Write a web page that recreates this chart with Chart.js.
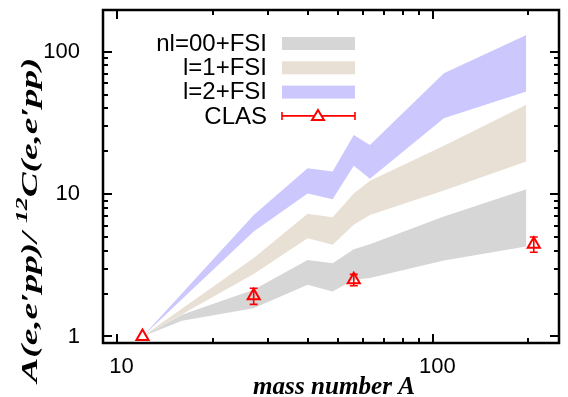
<!DOCTYPE html>
<html>
<head>
<meta charset="utf-8">
<script src="https://cdn.jsdelivr.net/npm/chart.js@4/dist/chart.umd.min.js"></script>
<style>
    html, body { margin: 0; padding: 0; background: #fff; }
    #wrap { width: 568px; height: 397px; }
</style>
</head>
<body>
<div id="wrap"><canvas id="ratioChart" width="568" height="397"></canvas></div>
<script>
/* ---- data ---- */
const massGray = [12, 16, 27, 40, 48, 56, 63, 108, 197];
const grayLow  = [1.0, 1.29, 1.58, 2.31, 2.07, 2.5, 2.57, 3.41, 4.28];
const grayHigh = [1.0, 1.42, 2.13, 3.45, 3.27, 4.1, 4.45, 6.95, 10.8];

const massBand = [12, 27, 40, 48, 56, 63, 108, 197];
const tanLow   = [1.0, 2.75, 4.9, 4.4, 6.08, 7.14, 10.6, 16.9];
const tanHigh  = [1.0, 3.55, 7.26, 6.88, 10.1, 12.4, 21.8, 42.3];
const blueLow  = [1.0, 5.46, 10.1, 9.2, 15.8, 12.8, 34.1, 52.4];
const blueHigh = [1.0, 7.14, 15.2, 14.4, 26.0, 22.1, 70.5, 131];

const clasMass  = [12, 27, 56, 208];
const clasRatio = [1.0, 1.93, 2.5, 4.45];
const clasErr   = [0, 0.25, 0.23, 0.55];

const xTicks = [10, 100];
const yTicks = [1, 10, 100];

const grayCol = "#d6d6d6";
const tanCol  = "#e9e0d5";
const blueCol = "#ccc8fe";
const red     = "#ff0000";

function pts(xs, ys) {
    return xs.map((x, i) => ({ x: x, y: ys[i] }));
}

function band(xs, lo, hi, col, ord) {
    return [
        { data: pts(xs, lo), order: ord, borderWidth: 0, pointRadius: 0, fill: false, backgroundColor: col },
        { data: pts(xs, hi), order: ord, borderWidth: 0, pointRadius: 0, fill: "-1", backgroundColor: col }
    ];
}

/* text stretched along its own direction to a given width */
function stretchedText(c, parts, cx, cy, targetW) {
    let total = 0;
    parts.forEach(p => { c.font = p.f; p.w = c.measureText(p.t).width; total += p.w; });
    const k = targetW / total;
    c.save();
    c.translate(cx, cy);
    c.scale(k, 1);
    let x0 = -total / 2;
    c.textAlign = "left";
    parts.forEach(p => {
        c.font = p.f;
        c.fillText(p.t, x0, p.dy);
        x0 += p.w;
    });
    c.restore();
}

/* frame, inward ticks, error bars, legend, axis titles */
const decorPlugin = {
    id: "decor",
    afterDatasetsDraw(chart) {
        const c = chart.ctx;
        const xs = chart.scales.x, ys = chart.scales.y;

        // error bars
        c.save();
        c.strokeStyle = red;
        c.lineWidth = 1.6;
        clasMass.forEach((m, i) => {
            if (!clasErr[i]) return;
            const px = xs.getPixelForValue(m);
            const top = ys.getPixelForValue(clasRatio[i] + clasErr[i]);
            const bot = ys.getPixelForValue(clasRatio[i] - clasErr[i]);
            c.beginPath();
            c.moveTo(px, top); c.lineTo(px, bot);
            c.moveTo(px - 4, top); c.lineTo(px + 4, top);
            c.moveTo(px - 4, bot); c.lineTo(px + 4, bot);
            c.stroke();
        });
        c.restore();
    },
    afterDraw(chart) {
        const c = chart.ctx;
        const a = chart.chartArea;
        const xs = chart.scales.x, ys = chart.scales.y;

        c.save();
        c.strokeStyle = "#000";
        c.lineWidth = 2;

        // ticks along x (bottom + top)
        for (let d = 1; d <= 100; d *= 10) {
            for (let k = 1; k <= 9; k++) {
                const v = d * k;
                if (v < xs.min || v > xs.max) continue;
                const px = Math.round(xs.getPixelForValue(v));
                const len = k === 1 ? 9 : 5;
                c.beginPath();
                c.moveTo(px, a.bottom); c.lineTo(px, a.bottom - len);
                c.moveTo(px, a.top); c.lineTo(px, a.top + len);
                c.stroke();
            }
        }
        // ticks along y (left + right)
        for (let d = 0.1; d <= 100; d *= 10) {
            for (let k = 1; k <= 9; k++) {
                const v = d * k;
                if (v < ys.min || v > ys.max) continue;
                const py = Math.round(ys.getPixelForValue(v));
                const len = k === 1 ? 9 : 5;
                c.beginPath();
                c.moveTo(a.left, py); c.lineTo(a.left + len, py);
                c.moveTo(a.right, py); c.lineTo(a.right - len, py);
                c.stroke();
            }
        }
        c.lineWidth = 2.5;
        c.strokeRect(a.left, a.top, a.right - a.left, a.bottom - a.top);

        // legend
        const rows = [
            { label: "nl=00+FSI", col: grayCol },
            { label: "l=1+FSI", col: tanCol },
            { label: "l=2+FSI", col: blueCol },
            { label: "CLAS", col: null }
        ];
        c.font = "24px 'Liberation Sans', Arial, sans-serif";
        c.textAlign = "right";
        c.textBaseline = "middle";
        rows.forEach((r, i) => {
            const y = 43 + i * 24.3;
            c.fillStyle = "#000";
            c.fillText(r.label, 267, y + 1);
            if (r.col) {
                c.fillStyle = r.col;
                c.fillRect(282, y - 6, 73, 13);
            } else {
                c.strokeStyle = red;
                c.lineWidth = 1.6;
                c.beginPath();
                c.moveTo(282, y); c.lineTo(355, y);
                c.moveTo(282, y - 4); c.lineTo(282, y + 4);
                c.moveTo(355, y - 4); c.lineTo(355, y + 4);
                c.stroke();
                c.fillStyle = "#fff";
                c.lineWidth = 2;
                c.beginPath();
                c.moveTo(318, y - 6); c.lineTo(324, y + 4); c.lineTo(312, y + 4);
                c.closePath();
                c.fill(); c.stroke();
            }
        });

        // axis titles
        c.fillStyle = "#000";
        c.textBaseline = "alphabetic";
        const xf = "bold italic 25px 'Liberation Serif', 'Times New Roman', serif";
        stretchedText(c, [{ t: "mass number A", f: xf, dy: 0 }], 334, 394, 162);

        c.translate(37, 220);
        c.rotate(-Math.PI / 2);
        const big = "bold italic 23px 'Liberation Serif', 'Times New Roman', serif";
        const small = "bold italic 16px 'Liberation Serif', 'Times New Roman', serif";
        stretchedText(c, [
            { t: "A(e,e\u2032pp)/ ", f: big, dy: 0 },
            { t: "12", f: small, dy: -10 },
            { t: "C(e,e\u2032pp)", f: big, dy: 0 }
        ], 0, 0, 325);
        c.restore();
    }
};

const ctx = document.getElementById("ratioChart");

new Chart(ctx, {
    type: "line",
    data: {
        datasets: [
            ...band(massGray, grayLow, grayHigh, grayCol, 1),
            ...band(massBand, tanLow, tanHigh, tanCol, 2),
            ...band(massBand, blueLow, blueHigh, blueCol, 3),
            {
                data: pts(clasMass, clasRatio),
                order: 0,
                showLine: false,
                pointStyle: "triangle",
                pointRadius: 7,
                pointBorderWidth: 2,
                pointBorderColor: red,
                pointBackgroundColor: "rgba(255,255,255,0)",
                fill: false
            }
        ]
    },
    options: {
        responsive: false,
        animation: false,
        layout: { padding: { top: 10, right: 1, left: 0, bottom: 0 } },
        plugins: {
            legend: { display: false },
            tooltip: { enabled: false },
            filler: { propagate: false }
        },
        scales: {
            x: {
                type: "logarithmic",
                min: 9,
                max: 250,
                grid: { display: false },
                border: { display: false },
                afterBuildTicks: s => { s.ticks = xTicks.map(v => ({ value: v })); },
                afterFit: s => {
                    s.height = 54;
                    s.paddingLeft = 0; s.paddingRight = 0;
                    s.paddingTop = 0; s.paddingBottom = 0;
                },
                ticks: {
                    padding: 3,
                    labelOffset: 4,
                    color: "#000",
                    font: { family: "'Liberation Sans', Arial, sans-serif", size: 22 },
                    callback: v => String(v),
                    maxRotation: 0,
                    autoSkip: false
                }
            },
            y: {
                type: "logarithmic",
                min: 0.9,
                max: 196,
                grid: { display: false },
                border: { display: false },
                afterBuildTicks: s => { s.ticks = yTicks.map(v => ({ value: v })); },
                afterFit: s => {
                    s.width = 103;
                    s.paddingLeft = 0; s.paddingRight = 0;
                    s.paddingTop = 0; s.paddingBottom = 0;
                },
                ticks: {
                    padding: 15,
                    color: "#000",
                    font: { family: "'Liberation Sans', Arial, sans-serif", size: 22 },
                    callback: v => String(v),
                    autoSkip: false
                }
            }
        }
    },
    plugins: [decorPlugin]
});
</script>
</body>
</html>
